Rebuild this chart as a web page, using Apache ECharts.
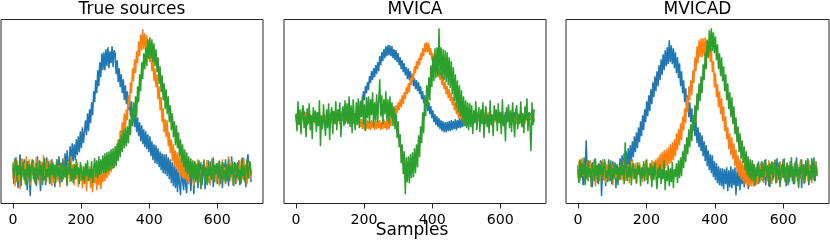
<!DOCTYPE html>
<html><head><meta charset="utf-8">
<script src="https://cdn.jsdelivr.net/npm/echarts@6/dist/echarts.min.js"></script>
<style>html,body{margin:0;padding:0;background:#fff}#c{width:830px;height:241px}</style>
</head><body><div id="c"></div><script>
// sample spacing of the typed values (x = index * SAMPLE_STEP, 0..699)
const SAMPLE_STEP = 3;
const PANEL_TITLES = ['True sources', 'MVICA', 'MVICAD'];
const X_TICKS = [0, 200, 400, 600];
const X_LABEL = 'Samples';

// ---- True sources ----
const TRUE_BLUE = [
0.5,-1.2,1.4,-0.3,0.9,-1.6,0.2,1.8,-0.7,0.6,
-0.4,1.3,-1.0,0.3,-1.8,1.1,-0.6,-2.4,0.8,-0.2,
1.2,-0.9,0.4,-1.4,1.6,-0.1,0.7,-1.9,0.3,1.0,
-0.8,0.6,-1.3,1.5,-0.4,0.9,-1.1,0.2,1.3,-0.6,
0.8,-1.5,0.3,1.1,-0.7,1.6,-0.2,0.9,-1.0,1.4,
-0.3,1.9,0.1,2.2,0.4,1.0,2.6,0.6,2.9,1.1,
2.8,1.2,3.3,1.7,3.6,2.0,4.1,2.4,4.5,2.9,
3.1,5.2,3.7,5.9,4.1,6.3,4.9,7.0,5.7,8.1,
7.0,9.2,7.9,10.2,8.6,11.0,9.5,11.9,10.2,12.0,
10.2,12.3,10.6,12.5,10.4,12.1,10.9,12.6,10.5,12.2,
11.9,9.8,11.2,9.0,10.4,8.5,9.8,7.9,9.3,7.2,
8.7,6.8,8.1,6.2,7.6,5.6,7.1,5.0,6.4,4.5,
6.1,4.0,5.5,3.6,5.0,3.1,4.7,2.8,4.3,2.5,
4.1,2.3,3.8,2.0,3.6,1.6,3.1,1.2,2.8,0.9,
2.7,0.8,2.4,0.5,2.1,0.2,1.9,-0.1,1.8,-0.2,
1.8,-0.4,1.5,-0.7,1.3,-1.1,1.0,-1.4,0.7,-1.6,
0.6,-2.0,0.4,-1.2,-2.3,0.8,-0.9,-1.8,0.5,-1.4,
-2.1,0.7,-1.0,0.3,-1.9,-0.4,0.9,-2.2,0.1,-0.8,
0.6,-1.6,0.3,-0.9,1.0,-1.3,-0.2,0.8,-1.7,0.4,
-0.6,1.2,-1.1,0.5,-0.3,1.4,-1.5,0.7,-0.2,0.9,
-1.2,0.4,1.1,-0.8,0.6,-1.6,0.9,-0.3,1.3,-0.9,
0.3,-1.4,0.8,-0.5,1.6,-1.0,0.2,1.0,-1.2,0.5,
-0.4,1.2,-1.3,0.6,-0.1,1.5,-0.8,0.4,-1.5,1.1,
1.8,-0.6,0.9,-1.0];
const TRUE_ORANGE = [
-0.7,1.1,-1.4,0.4,1.2,-0.9,0.3,-1.7,0.8,1.4,
-0.5,0.9,-1.2,1.6,-0.8,0.2,1.3,-1.3,0.7,-0.3,
1.0,-1.0,0.4,1.5,-0.6,0.8,-1.3,1.1,0.2,-0.9,
1.7,-0.4,0.9,-1.0,1.3,0.1,-0.7,1.2,-1.4,0.6,
-1.1,0.5,-0.2,1.3,-0.9,0.7,-1.5,1.0,0.3,-0.8,
1.4,-0.6,0.5,-1.2,1.1,0.0,-1.0,1.6,-0.4,0.8,
-1.3,0.6,-0.7,1.0,-1.5,0.4,-0.9,0.7,-1.6,0.2,
-1.2,0.5,-1.9,0.1,-0.9,0.6,-1.6,-0.1,-2.0,0.3,
-1.1,0.4,-1.8,0.0,-1.3,0.7,-1.7,-0.2,-1.0,0.5,
-0.9,1.1,-0.6,1.4,-0.3,1.7,0.0,1.9,0.4,2.1,
0.8,2.6,1.3,3.3,2.0,4.2,2.9,5.0,3.7,5.9,
4.1,6.3,5.2,7.7,6.5,9.0,7.9,10.4,9.1,11.3,
9.9,12.1,10.9,13.1,11.6,13.8,12.2,14.3,12.3,13.9,
12.1,13.7,11.6,13.2,11.0,12.4,10.1,11.5,9.1,10.4,
8.5,9.8,7.3,8.6,6.2,7.5,5.0,6.4,4.0,5.3,
3.5,5.2,2.6,4.0,1.9,3.3,1.1,2.8,0.6,2.2,
0.3,2.0,0.0,1.7,-0.4,1.4,-0.6,1.3,-0.7,1.1,
-0.9,0.8,-1.2,0.4,1.1,-0.5,0.7,-1.4,0.2,0.9,
-0.6,1.3,-1.0,0.3,-1.6,0.8,-0.2,1.1,-0.9,0.5,
1.2,-0.7,0.4,-1.3,0.9,-0.1,1.5,-0.8,0.6,-1.1,
0.2,1.0,-1.4,0.7,-0.3,1.3,-0.9,0.5,-1.2,0.8,
-0.4,1.6,-0.8,0.3,1.1,-1.3,0.6,-0.2,0.9,-1.0,
0.7,-0.5,1.2,-1.1,0.4,-0.7,1.4,-0.3,0.8,-1.2,
0.5,1.0,-0.6,0.3];
const TRUE_GREEN = [
0.9,-0.6,0.4,1.5,-1.0,0.7,-0.3,1.2,-1.4,0.5,
1.0,-0.8,0.3,-1.3,1.1,-0.5,0.8,-1.0,0.6,1.3,
-0.7,0.5,-1.2,0.9,0.2,-0.8,1.2,-0.4,0.7,-1.3,
0.6,1.4,-0.9,0.3,-0.5,1.1,-1.2,0.8,-0.3,1.0,
-0.6,0.7,-1.0,1.3,-0.4,0.5,-1.1,0.9,0.2,-0.7,
1.2,-0.5,0.6,-1.4,0.9,-0.2,1.1,-0.9,0.4,-1.1,
0.8,-0.7,1.3,-0.3,0.5,-1.2,1.0,0.1,-0.8,0.6,
-1.0,0.9,-0.4,1.2,-0.9,0.3,-0.6,1.1,-1.1,0.4,
1.4,-0.5,1.2,-0.6,1.6,-0.3,1.3,-0.2,1.7,-0.1,
1.9,-0.1,2.0,0.1,2.1,0.2,2.3,0.3,2.4,0.4,
2.6,0.6,2.9,1.1,3.3,1.5,3.7,2.0,4.2,2.4,
4.4,2.6,4.6,2.9,5.3,3.7,6.3,4.6,7.0,5.2,
7.6,5.6,8.6,7.0,9.8,8.1,11.0,9.3,11.9,10.3,
12.5,10.6,13.3,11.3,13.5,11.4,13.3,11.0,12.9,10.6,
12.3,10.0,11.5,8.8,10.6,8.0,9.7,7.2,8.9,6.3,
8.3,5.8,7.6,5.0,6.7,4.2,5.9,3.5,5.1,2.7,
4.7,2.4,4.0,1.6,3.3,1.0,2.8,0.5,2.3,0.0,
2.0,-0.2,1.6,-0.5,1.4,-0.7,1.2,-0.8,1.1,-1.0,
0.8,-1.1,1.2,-0.4,-1.7,0.7,-0.2,1.3,-0.9,0.5,
-1.3,0.6,-0.4,1.1,-0.8,0.3,1.4,-1.0,0.7,-0.2,
0.9,-0.6,1.2,-1.2,0.4,1.0,-0.7,0.2,-1.1,0.8,
-0.5,1.3,-0.9,0.6,-0.2,1.1,-1.4,0.5,0.9,-0.6,
1.0,-0.8,0.3,-1.2,1.4,-0.4,0.7,-1.0,0.2,1.2,
-0.7,0.6,1.1,-0.3];

// ---- MVICA ----
const MVICA_BLUE = [
0.4,-0.5,0.6,-0.2,0.2,-0.6,0.5,-0.1,0.7,-0.4,
0.3,-0.7,0.4,0.6,-0.4,0.1,-0.6,0.5,-0.2,0.3,
-0.5,0.6,-0.1,0.4,-0.7,0.3,0.5,-0.4,0.2,-0.6,
0.5,-0.3,0.6,-0.5,0.2,-0.1,0.7,-0.4,0.3,-0.6,
0.4,-0.2,0.6,-0.5,0.1,0.5,-0.3,0.4,-0.6,0.2,
0.6,-0.4,0.3,-0.5,0.5,-0.2,0.4,-0.6,0.2,0.5,
0.7,-0.2,1.1,0.4,1.8,1.1,2.7,1.8,3.2,2.5,
3.6,2.8,4.2,3.5,4.7,3.8,5.0,4.1,5.3,4.4,
5.6,4.7,6.2,5.3,6.6,5.7,6.9,6.0,7.2,6.2,
7.3,6.3,7.3,6.2,7.2,6.0,6.9,5.8,6.8,5.6,
6.5,5.3,6.1,4.9,5.8,4.6,5.5,4.3,5.1,3.9,
5.0,3.8,4.7,3.6,4.4,3.2,4.0,2.9,3.8,2.7,
3.6,2.4,3.2,1.9,2.7,1.5,2.3,1.1,1.9,0.7,
1.6,0.4,1.2,0.0,0.8,-0.4,0.4,-0.7,0.2,-0.9,
0.0,-1.1,-0.2,-1.3,-0.3,-1.4,-0.4,-1.4,-0.4,-1.3,
-0.3,-1.3,-0.2,-1.2,-0.3,-1.1,-0.1,-1.2,-0.2,-1.0,
0.0,-1.0,-0.1,-0.9,0.1,-0.8,0.2,-0.8,0.1,-0.7,
0.3,-0.6,0.2,-0.5,0.4,-0.5,0.3,-0.4,0.5,-0.3,
0.4,-0.5,0.6,-0.2,0.3,-0.6,0.5,-0.1,0.4,-0.5,
0.6,-0.3,0.2,-0.6,0.5,-0.2,0.4,-0.5,0.3,0.6,
-0.4,0.5,-0.6,0.3,-0.1,0.6,-0.5,0.4,-0.3,0.2,
0.5,-0.4,0.3,-0.6,0.6,-0.2,0.1,-0.5,0.4,-0.3,
0.6,-0.5,0.2,-0.4,0.5,-0.1,0.3,-0.6,0.4,-0.2,
0.5,-0.3,0.2,-0.4];
const MVICA_ORANGE = [
-0.3,0.5,-0.6,0.2,0.4,-0.4,0.6,-0.1,-0.5,0.3,
0.6,-0.3,0.1,-0.6,0.4,0.5,-0.4,0.2,-0.2,-0.6,
0.4,0.1,-0.5,0.6,-0.3,0.3,-0.6,0.4,0.5,-0.2,
-0.4,0.6,-0.1,0.3,-0.5,0.4,-0.3,0.5,-0.6,0.2,
0.5,-0.2,0.3,-0.6,0.6,-0.1,0.2,-0.5,0.4,-0.3,
0.3,-0.5,0.6,-0.2,-0.4,0.4,-0.1,0.5,-0.3,0.2,
0.4,-0.5,0.1,-0.9,-0.1,-1.1,-0.2,-1.2,-0.3,-1.1,
-0.2,-1.1,-0.3,-1.2,-0.2,-1.0,-0.4,-1.2,-0.1,-1.1,
-0.3,-1.0,-0.2,-1.2,-0.4,-1.1,-0.1,-1.0,-0.3,-1.2,
-0.2,-1.1,0.0,-0.8,0.5,-0.3,1.0,0.2,1.3,0.5,
1.6,0.8,1.9,1.1,2.3,1.4,2.6,1.9,3.1,2.4,
3.5,2.6,4.0,3.3,4.5,3.8,5.2,4.5,5.7,4.9,
6.0,5.3,6.5,5.8,7.0,6.2,7.5,6.6,7.6,6.6,
7.5,6.3,7.0,5.8,6.5,5.2,5.9,4.6,5.3,4.1,
5.0,3.8,4.6,3.3,4.1,2.9,3.6,2.4,3.2,2.0,
2.9,1.7,2.5,1.3,2.1,0.8,1.6,0.4,1.2,0.0,
1.0,-0.1,0.7,-0.4,0.5,-0.6,0.3,-0.7,0.3,-0.6,
0.4,-0.4,0.3,-0.6,0.5,-0.2,0.2,-0.5,0.6,-0.3,
-0.2,0.5,-0.4,0.3,-0.6,0.4,0.1,-0.5,0.6,-0.3,
0.4,-0.6,0.2,-0.1,0.5,-0.4,0.3,-0.5,0.6,-0.2,
-0.5,0.3,0.6,-0.3,0.1,-0.6,0.4,-0.2,0.5,-0.4,
0.2,-0.5,0.4,0.6,-0.3,0.1,-0.6,0.5,-0.1,0.3,
-0.4,0.5,-0.2,0.3,-0.6,0.4,0.2,-0.5,0.6,-0.1,
0.3,-0.4,0.5,-0.2];
const MVICA_GREEN = [
0.4,-1.3,1.7,-0.7,0.9,-1.6,0.6,1.3,-1.0,0.2,
-1.9,1.0,-0.5,1.5,-1.2,0.3,-2.1,1.1,-0.4,0.8,
-1.4,0.6,-0.8,1.8,-2.8,0.2,-1.1,1.4,-0.6,-1.8,
0.9,-1.0,1.5,-2.2,0.3,1.1,-1.6,0.7,-0.5,1.7,
-1.2,0.9,-0.3,1.6,-1.9,0.5,1.2,-0.8,1.8,-0.4,
1.5,-0.6,2.2,-0.9,1.3,-1.5,1.9,0.1,-1.2,1.6,
-0.7,2.0,-1.0,1.7,0.1,2.3,-0.6,1.4,-1.3,2.1,
0.0,2.2,-0.5,1.9,0.3,2.6,-0.8,1.6,-0.2,2.4,
-0.4,1.8,3.9,0.2,2.3,-0.6,1.9,0.4,2.7,-0.3,
1.9,-0.5,2.2,0.0,1.6,-0.8,1.2,-1.1,0.5,-2.0,
-0.3,-2.9,-1.6,-4.5,-2.6,-5.6,-3.3,-7.6,-3.9,-6.4,
-3.8,-6.5,-3.6,-6.0,-3.4,-5.9,-3.0,-5.5,-2.6,-4.9,
-1.7,-3.9,-0.8,-2.5,0.6,-1.5,2.1,0.2,3.3,1.3,
4.1,1.8,5.3,3.1,6.2,3.7,7.0,4.0,7.1,4.2,
9.0,4.3,7.1,4.0,6.9,3.8,6.8,3.6,6.6,3.3,
6.1,3.0,5.7,2.4,5.1,1.7,4.4,1.1,3.8,0.6,
3.3,0.2,2.8,-0.4,2.2,-0.8,1.8,-1.0,1.6,-1.2,
1.5,-0.9,1.3,-1.6,0.8,-0.3,1.7,-1.2,0.4,1.1,
-1.4,0.9,-0.6,1.6,-2.0,0.5,1.2,-0.9,0.3,-1.5,
1.8,-0.7,0.4,-1.8,1.3,-0.2,0.9,-1.3,1.5,-0.5,
0.6,-1.6,1.9,-0.8,0.2,-2.3,1.1,-0.4,1.4,-1.0,
0.8,-1.4,1.6,-0.3,-1.9,0.7,1.3,-1.1,0.4,-0.6,
1.7,-0.9,0.5,-1.5,1.2,-0.2,2.0,-1.3,0.6,-0.8,
-3.3,1.6,-0.7,0.9];

// ---- MVICAD ----
const MVICAD_BLUE = [
0.7,-1.0,1.2,-0.5,0.4,-1.3,0.6,-0.2,3.2,0.3,
-0.9,1.1,-0.4,0.8,-1.5,0.2,1.3,-0.7,0.5,-1.1,
0.9,-0.3,1.2,-2.4,0.4,-0.8,1.0,-1.4,0.6,-0.1,
1.3,-0.9,0.2,-1.2,1.1,-0.5,0.7,-1.6,0.8,0.3,
-0.6,1.4,-0.3,1.7,-0.2,1.9,0.1,2.1,0.2,2.4,
0.6,2.7,1.1,3.1,1.5,3.6,2.0,4.0,2.4,4.5,
3.0,5.1,3.6,5.7,4.2,6.3,5.0,7.1,5.6,7.7,
6.1,8.3,6.8,9.0,7.5,9.6,8.1,10.1,8.6,10.7,
9.2,11.3,9.7,11.8,10.2,12.2,10.6,12.5,10.8,13.2,
11.0,12.7,10.8,12.4,10.4,12.0,9.9,11.5,9.4,10.9,
8.6,10.1,7.9,9.2,7.0,8.4,6.2,7.7,5.5,7.0,
5.0,6.4,4.3,5.7,3.6,5.1,2.9,4.5,2.5,4.0,
2.1,3.7,1.6,3.1,1.1,2.7,0.6,2.2,0.2,1.8,
-0.1,1.7,-0.5,1.1,-0.8,0.9,-1.1,0.6,-1.3,0.4,
-1.4,0.4,-1.7,0.3,-1.2,0.5,-1.9,0.2,-1.5,0.6,
-1.6,0.3,-1.3,0.5,-2.3,0.1,-1.4,0.4,-1.8,0.3,
-1.2,0.6,-1.5,0.2,-1.0,0.5,-1.7,0.4,-0.9,0.7,
-1.1,0.8,-1.4,0.3,-0.6,0.9,-1.2,0.5,-0.3,1.1,
-0.9,0.4,1.2,-1.3,0.6,-0.2,0.9,-1.5,0.3,-0.7,
1.0,-0.4,0.6,-1.1,1.4,-0.8,0.2,-1.2,0.7,-0.3,
1.3,-0.6,0.4,-1.4,0.8,0.0,-1.0,1.1,-0.5,0.6,
-1.2,0.9,-0.2,1.5,-0.9,0.3,-0.6,1.0,-1.6,0.5,
0.8,-1.1,1.2,-0.4,0.3,-1.3,0.7,-0.1,1.4,-0.8,
0.4,-0.9,1.1,-0.2];
const MVICAD_ORANGE = [
-0.6,1.1,-0.9,0.5,1.4,-0.4,0.8,-1.2,0.3,1.0,
-0.7,0.4,1.2,-1.0,0.6,-0.3,0.9,-1.4,0.7,-0.5,
0.3,-0.9,1.0,-0.4,1.3,-0.7,0.5,-1.1,0.8,0.2,
-0.8,1.1,-0.3,0.7,-1.3,0.4,0.9,-0.6,0.2,-1.0,
0.6,-0.5,1.0,-0.8,0.4,1.2,-0.9,0.3,-0.2,0.8,
-1.1,0.5,-0.4,1.3,-0.7,0.2,0.9,-1.2,0.6,-0.3,
1.0,-0.6,0.3,-1.0,0.8,-0.2,1.2,-0.8,0.5,-0.4,
0.9,-0.7,1.2,-0.5,1.1,-0.4,1.3,-0.3,1.5,-0.2,
1.8,-0.1,2.0,0.2,2.2,0.4,2.3,0.6,2.5,0.8,
2.8,0.9,3.0,1.2,3.3,1.6,3.9,2.2,4.3,2.7,
4.9,3.2,5.6,4.2,6.4,4.9,7.5,6.0,8.6,7.2,
9.2,7.7,10.2,8.9,11.5,10.1,12.6,10.9,13.2,11.5,
13.4,11.5,13.4,11.6,13.5,11.5,13.3,11.4,13.0,11.0,
12.4,10.0,11.1,8.5,9.9,7.5,8.8,6.5,8.1,5.8,
7.4,5.1,6.6,4.1,5.6,3.3,4.5,2.3,3.9,1.7,
3.5,1.3,2.9,0.6,2.3,0.1,1.7,-0.4,1.3,-0.7,
1.1,-0.9,0.8,-1.2,0.5,-1.4,0.4,-1.5,0.3,-1.4,
0.5,-1.4,0.4,-1.3,0.6,-1.2,0.7,-1.0,0.9,-0.8,
0.4,-1.1,1.0,-0.5,0.7,-0.9,1.2,-0.3,0.5,-1.2,
0.8,-0.6,1.3,-0.2,-1.0,0.6,-0.4,1.1,-0.8,0.3,
-0.5,1.2,-0.9,0.4,1.0,-1.3,0.7,-0.2,0.9,-0.7,
0.3,-1.0,1.1,-0.5,0.6,-1.4,0.2,1.3,-0.6,0.5,
-1.2,0.8,-0.1,0.6,-0.9,1.2,-0.4,0.3,-1.1,0.9,
0.2,-0.7,1.0,-0.3];
const MVICAD_GREEN = [
0.3,-1.1,1.3,-0.6,0.9,-0.3,1.5,-1.3,0.6,-0.7,
1.2,-0.5,0.4,-1.5,1.0,0.2,-0.9,1.4,-0.4,0.7,
-1.2,0.8,-0.3,1.1,-0.8,0.5,1.3,-0.6,0.2,-1.0,
0.9,-0.4,1.2,-1.1,0.4,-0.7,1.0,-0.2,0.6,-1.3,
0.5,-0.8,1.1,-0.3,0.7,-1.2,3.0,0.1,-0.9,0.6,
-0.5,1.2,-1.3,0.4,0.9,-0.7,0.3,-1.1,1.0,-0.2,
0.7,-1.4,0.5,-0.6,1.1,-0.9,0.2,1.3,-1.2,0.4,
-0.3,0.9,-1.5,0.6,-0.8,1.0,-0.4,-1.7,0.5,-0.6,
0.8,-1.2,0.3,-0.7,1.2,-1.8,0.2,-0.9,0.7,-1.4,
0.4,-1.0,1.0,-1.6,0.3,-0.5,0.9,-1.1,1.2,-0.6,
1.5,-0.4,2.1,0.4,2.8,1.0,3.5,1.8,4.3,2.5,
4.8,3.1,5.7,4.1,6.7,5.0,7.9,6.2,8.9,7.1,
9.6,7.9,10.8,9.2,12.0,10.3,13.2,11.5,14.2,12.0,
14.4,12.1,14.0,11.9,13.6,11.2,12.8,10.3,11.9,9.6,
11.5,9.1,10.6,8.1,9.8,7.2,8.9,6.3,8.0,5.5,
7.5,4.8,6.6,3.8,5.5,3.0,4.6,2.0,3.9,1.3,
3.2,0.9,2.6,0.2,2.1,-0.3,1.6,-0.6,1.3,-0.8,
1.2,-0.9,0.8,-1.3,0.5,-0.4,1.1,-1.0,0.3,-0.5,
1.0,-0.8,0.4,1.3,-0.6,0.7,-1.4,0.9,-0.2,1.1,
-0.8,0.5,1.2,-1.1,0.6,-0.4,1.0,-1.5,0.3,0.8,
-0.6,1.4,-1.0,0.4,0.9,-1.3,0.7,-0.5,1.5,-0.9,
0.3,-1.2,1.1,-0.4,0.8,-1.6,0.5,-0.2,1.3,-0.7,
0.6,-1.1,0.9,-0.3,1.4,-1.0,0.2,-0.8,1.2,-0.5,
1.5,-0.9,0.7,-0.4];

const COLORS = ['#1f77b4', '#ff7f0e', '#2ca02c'];
const PANEL_DATA = [
  [TRUE_BLUE, TRUE_ORANGE, TRUE_GREEN],
  [MVICA_BLUE, MVICA_ORANGE, MVICA_GREEN],
  [MVICAD_BLUE, MVICAD_ORANGE, MVICAD_GREEN]
];
// layout (pixels) and y-limits per panel
const LAYOUT = [
  {left: 1, width: 262, yMin: -3.13, yMax: 15.27},
  {left: 284, width: 262, yMin: -8.53, yMax: 9.87},
  {left: 566, width: 263, yMin: -3.13, yMax: 15.27}
];
const GRID_TOP = 19.5, GRID_H = 184;

const chart = echarts.init(document.getElementById('c'), null, {renderer: 'canvas'});
const grids = [], xAxes = [], yAxes = [], series = [], graphics = [];
LAYOUT.forEach((L, p) => {
  grids.push({left: L.left, top: GRID_TOP, width: L.width, height: GRID_H, show: true,
    borderColor: '#262626', borderWidth: 1, backgroundColor: 'transparent', containLabel: false});
  xAxes.push({type: 'value', gridIndex: p, min: -35, max: 734,
    axisLine: {show: false, onZero: false}, splitLine: {show: false},
    axisTick: {show: true, inside: false, length: 5, customValues: X_TICKS, lineStyle: {color: '#262626', width: 1}},
    axisLabel: {show: true, customValues: X_TICKS, margin: 10, color: '#000',
      fontFamily: 'DejaVu Sans', fontSize: 14.2}});
  yAxes.push({type: 'value', gridIndex: p, min: L.yMin, max: L.yMax,
    axisLine: {show: false, onZero: false}, axisTick: {show: false}, axisLabel: {show: false}, splitLine: {show: false}});
  PANEL_DATA[p].forEach((arr, s) => {
    series.push({type: 'line', xAxisIndex: p, yAxisIndex: p, showSymbol: false, symbol: 'none',
      silent: true, animation: false, clip: true,
      lineStyle: {color: COLORS[s], width: 1.5}, itemStyle: {color: COLORS[s]},
      data: arr.map((v, i) => [i * SAMPLE_STEP, v])});
  });
  graphics.push({type: 'text', x: L.left + L.width / 2, y: 10,
    style: {text: PANEL_TITLES[p], font: '17px "DejaVu Sans"', fill: '#000',
      textAlign: 'center', textVerticalAlign: 'middle', align: 'center', verticalAlign: 'middle'}});
});
graphics.push({type: 'text', x: 412, y: 231,
  style: {text: X_LABEL, font: '17px "DejaVu Sans"', fill: '#000',
    textAlign: 'center', textVerticalAlign: 'middle', align: 'center', verticalAlign: 'middle'}});

chart.setOption({
  animation: false,
  backgroundColor: '#fff',
  grid: grids, xAxis: xAxes, yAxis: yAxes, series: series,
  graphic: graphics
});
</script></body></html>
